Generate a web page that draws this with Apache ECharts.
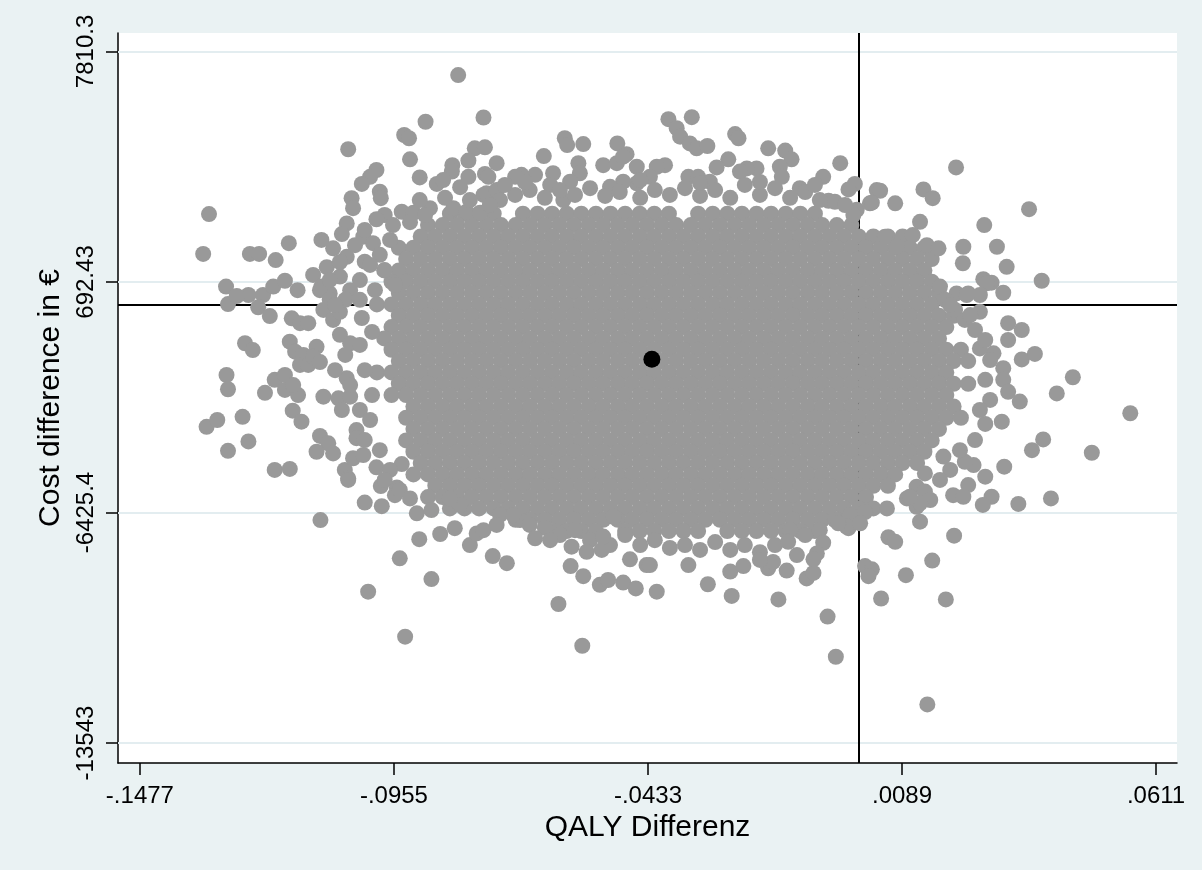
<!DOCTYPE html>
<html>
<head>
<meta charset="utf-8">
<title>QALY / cost scatter</title>
<script src="https://cdn.jsdelivr.net/npm/echarts@6/dist/echarts.min.js"></script>
<style>
  html, body { margin: 0; padding: 0; background: #eaf2f3; }
  #chart { width: 1202px; height: 870px; }
</style>
</head>
<body>
<div id="chart"></div>
<script>
// ticks as printed on the axes
const xTickValues = [-0.1477, -0.0955, -0.0433, 0.0089, 0.0611];
const xTickLabels = ['-.1477', '-.0955', '-.0433', '.0089', '.0611'];
const yTickValues = [-13543, -6425.4, 692.43, 7810.3];
const yTickLabels = ['-13543', '-6425.4', '692.43', '7810.3'];

// mean of the replicates (black dot)
const meanPoint = [-0.0425, -1690];

// outer replicates [qaly, cost]
const cloudTop = [
  [-.0823,7080],[-.0771,5770],[-.0890,5640],[-.0934,5230],[-.0924,5130],[-.1049,4790],[-.0789,4820],[-.0768,4850],
  [-.0922,4480],[-.0802,4440],[-.0835,4300],[-.0836,4100],[-.0902,3920],[-.0991,4150],[-.1004,3940],[-.1021,3720],
  [-.0867,3720],[-.0854,3840],[-.0819,3620],[-.0802,3940],[-.0768,4030],[-.0744,4360],[-.0984,3480],[-.0982,3280],
  [-.1042,3280],[-.1039,2970],[-.0771,3380],[-.0751,3380],[-.0974,2760],[-.0939,2860],[-.0915,2830],[-.0881,2970],
  [-.0833,2970],[-.0806,2860],[-.0778,2830],
  [-.0604,5130],[-.0599,4920],[-.0566,4950],[-.0647,4580],[-.0496,4970],[-.0477,4640],[-.0391,5720],[-.0374,5440],
  [-.0367,5180],[-.0343,5780],[-.0347,4970],[-.0333,4820],[-.0311,4890],[-.0254,5260],[-.0247,5130],[-.0268,4480],
  [-.0292,4230],[-.0186,4820],[-.0151,4750],[-.0138,4480],[-.0038,4360],[-.0073,3940],[-.0008,3720],[-.0021,3550],
  [-.0062,3200],[-.0049,3170],[-.0004,2920],[-.0011,2760],[.0037,3530],[.0023,3120],[-.0121,3590],[-.0162,4250],
  [-.0158,3940],[-.0210,4200],[-.0230,4200],[-.0244,4100],[-.0398,4300],[-.0415,4250],[-.0456,4250],[-.0525,4300],
  [-.0497,4360],[-.0484,4560],[-.0576,4360],[-.0573,4050],[-.0593,3790],[-.0628,4050],[-.0634,3690],[-.0665,4000],
  [-.0693,4000],[-.0706,3940],[-.0761,3940],[-.0765,3430],[-.0744,3530],[-.0607,3220],[-.0350,3940],[-.0330,3940],
  [-.0306,3790],[-.0429,3940],[-.0456,3740],[-.0484,3790],[-.0511,3630],
  [-.0737,3220],[-.0706,3380],[-.0676,3530],[-.0645,3290],[-.0583,3380],[-.0552,3590],[-.0521,3350],[-.0491,3470],
  [-.0449,3290],[-.0419,3530],[-.0388,3380],[-.0357,3590],[-.0326,3350],[-.0295,3530],[-.0264,3290],[-.0234,3690],
  [-.0203,3380],[-.0172,3590],[-.0141,3290],[-.0110,3470],[-.0080,3220],[-.0028,3070],[-.0727,3690],[-.0686,3780],
  [-.0449,3840],[-.0326,3750],[-.0203,3780],[-.0090,3690],[-.0902,3220],[-.0850,3290],[-.0799,3220],[-.0758,3070],
  [-.0922,2540],[-.0891,2760],[-.0614,3530],
  [.0044,3510],[.0027,3140],[.0075,3120],[.0200,4230],[.0133,3550],[.0152,3280],[.0350,2940],[.0126,2550],
  [.0258,2450],[.0111,2140],[.0054,2090],[.0215,1780],[.0214,1270],[.0284,1780],[.0304,1160],[.0376,730],
  [.0256,780],[.0273,670],[.0297,360],[.0140,1830],[.0164,1730],[.0078,1780],[.0167,550],[.0201,340],[.0225,340]
];

const cloudLeft = [
  [-.1335,2790],[-.1347,1560],[-.1251,1560],[-.1232,1560],[-.1171,1890],[-.1198,1370],[-.1104,1990],[-.1080,1730],
  [-.1052,2500],[-.1062,2170],[-.1052,1470],[-.0991,2630],[-.1015,1320],[-.1121,910],[-.1093,1150],[-.1066,860],
  [-.1300,550],[-.1254,290],[-.1224,290],[-.1203,550],[-.1179,730],[-.1153,440],[-.1104,550],[-.1087,340],
  [-.1018,2090],[-.0998,1890],
  [-.1296,10],[-.1278,260],[-.1234,-90],[-.1210,-360],[-.1165,-430],[-.1148,-580],[-.1131,-580],[-.1261,-1200],
  [-.1245,-1410],[-.1169,-1150],[-.1158,-1460],[-.1141,-1560],[-.1148,-1870],[-.1131,-1870],[-.1299,-2180],[-.1296,-2620],
  [-.1220,-2730],[-.1200,-2330],[-.1179,-2180],[-.1179,-2640],[-.1152,-2800],[-.1162,-2490],[-.1100,-2850],[-.1069,-2900],
  [-.1045,-2850],[-.1062,-3260],[-.1340,-3780],[-.1318,-3570],[-.1266,-3470],[-.1296,-4520],[-.1254,-4230],[-.1163,-3280],
  [-.1145,-3620],[-.1107,-4060],[-.1090,-4290],[-.1080,-4600],[-.1114,-4550],[-.1200,-5110],[-.1169,-5080],[-.1106,-6660],
  [-.1056,-5110],[-.1049,-5370],[-.1032,-3880],[-.1032,-4130],[-.1039,-4750],[-.1018,-4650],[-.0991,-5030],[-.0982,-5610],
  [-.0939,-4930],[-.1015,-6120],[-.0980,-6230],[-.0949,-5650],[-.1107,440],[-.1100,-170],[-.1080,-480],[-.1066,-940],
  [-.1045,-1200],[-.1052,-2280],[-.1076,-2030],[-.1114,-1310],[-.1121,-1620],
  [-.1087,140],[-.1066,-230],[-.1021,-420],[-.1000,-850],[-.1025,-1250],[-.1055,-1560],[-.1107,-1780],[-.1045,-2490],
  [-.1015,-2030],[-.1000,-2800],[-.1025,-3260],[-.1004,-3570],[-.1015,-4190],[-.0984,-4500],[-.0963,-5110],[-.0974,-5420],
  [-.0953,-5890],[-.0957,2450],[-.0963,1990],[-.0984,1530],[-.1004,1220],[-.1025,750],[-.1045,440],[-.0974,1060],
  [-.0994,440],[-.0953,600],[-.1015,2300],[-.1035,1830],[-.1066,1310],[-.1087,750],[-.1055,140],[-.1025,140],
  [-.1076,-20],[-.1049,-5420]
];

const cloudRight = [
  [.0263,650],[.0249,290],[.0222,290],[.0249,-230],[.0307,-580],[.0335,-790],[.0307,-1100],[.0335,-1700],
  [.0362,-1530],[.0440,-2250],[.0407,-2750],[.0558,-3360],[.0297,-1970],[.0297,-2330],[.0307,-2700],[.0331,-3000],
  [.0277,-1510],[.0249,-1360],[.0294,-3620],[.0260,-3690],[.0379,-4170],[.0356,-4500],[.0479,-4580],[.0299,-5010],
  [.0260,-5320],[.0236,-4960],[.0218,-4860],[.0225,-5580],[.0194,-5890],[.0215,-5940],[.0273,-5940],[.0255,-6190],
  [.0328,-6160],[.0395,-5990],[.0174,-4700],[.0136,-5220],[.0119,-5630],[.0136,-5780],[.0099,-5990],[.0119,-6250],
  [.0058,-6300],[.0126,-6710],[.0061,-7190],[.0075,-7330],[.0196,-7140],[-.0011,-6660],[-.0021,-6910],
  [.0177,140],[.0198,-170],[.0218,-480],[.0239,-790],[.0260,-1100],[.0270,-1720],[.0260,-2330],[.0270,-2950],
  [.0249,-3260],[.0239,-4190],[.0208,-4500],[.0188,-5110],[.0167,-5420],[.0147,-6040],[.0188,-20],[.0229,-330],
  [.0126,-6140],[.0105,-5940]
];

const cloudBottom = [
  [-.0737,-6500],[-.0696,-6660],[-.0645,-6900],[-.0614,-7120],[-.0583,-6970],[-.0552,-7280],[-.0511,-7430],[-.0480,-7120],
  [-.0449,-7430],[-.0419,-7280],[-.0388,-7520],[-.0357,-7430],[-.0326,-7580],[-.0295,-7340],[-.0264,-7580],[-.0234,-7430],
  [-.0203,-7650],[-.0172,-7430],[-.0141,-6970],[-.0110,-7120],[-.0080,-6970],[-.0049,-6660],[-.0018,-6500],[.0013,-6410],
  [-.0908,-6450],[-.0878,-6350],[-.0903,-7250],[-.0860,-7090],[-.0830,-6910],[-.0799,-7430],
  [-.0943,-7840],[-.1008,-8870],[-.0932,-10260],[-.0878,-8480],[-.0785,-7070],[-.0771,-6970],[-.0752,-7770],[-.0723,-7990],
  [-.0744,-6810],[-.0710,-6500],[-.0819,-6190],[-.0840,-5990],[-.0943,-5730],[-.0922,-5990],[-.0676,-6810],[-.0665,-7220],
  [-.0634,-7280],[-.0617,-9250],[-.0568,-10540],[-.0592,-8080],[-.0566,-8390],[-.0590,-7480],[-.0559,-7640],[-.0528,-7580],
  [-.0532,-8660],[-.0515,-8510],[-.0484,-8590],[-.0458,-8770],[-.0470,-7870],[-.0436,-8050],[-.0525,-7170],[-.0504,-6560],
  [.0151,-7910],[.0097,-8360],[.0013,-8080],[.0027,-8180],[.0020,-8390],[.0046,-9080],[.0179,-9110],[-.0064,-9640],
  [-.0047,-10880],[.0141,-12350],[-.0165,-9110],[-.0261,-9000],[-.0310,-8640],[-.0415,-8870],[-.0107,-8460],[-.0093,-8290],
  [-.0148,-8220],[-.0186,-8150],[-.0176,-7950],[-.0203,-7890],[-.0264,-8250],[-.0237,-8080],[-.0350,-8050],[-.0429,-8050],
  [-.0073,-7360],[-.0086,-7690],[-.0093,-7870],[-.0127,-7740],[-.0145,-7330],[-.0025,-6860],[.0003,-6760],[-.0042,-6760]
];

// solid centre of the cloud, one row per cost level: [cost, qaly, qaly, ...]
const coreRows = [
  [2800,-.084,-.081,-.078,-.075,-.069,-.066,-.063,-.060,-.057,-.054,-.051,-.048,-.045,-.042,-.039,-.033,-.030,-.027,-.024,-.021,-.018,-.015,-.012,-.009],
  [2450,-.0885,-.0855,-.0825,-.0795,-.0765,-.0735,-.0705,-.0675,-.0645,-.0615,-.0585,-.0555,-.0525,-.0495,-.0465,-.0435,-.0405,-.0375,-.0345,-.0315,-.0285,-.0255,-.0225,-.0195,-.0165,-.0135,-.0105,-.0075,-.0045,-.0015],
  [2100,-.090,-.087,-.084,-.081,-.078,-.075,-.072,-.069,-.066,-.063,-.060,-.057,-.054,-.051,-.048,-.045,-.042,-.039,-.036,-.033,-.030,-.027,-.024,-.021,-.018,-.015,-.012,-.009,-.006,-.003,0,.003,.006,.009],
  [1750,-.0945,-.0915,-.0885,-.0855,-.0825,-.0795,-.0765,-.0735,-.0705,-.0675,-.0645,-.0615,-.0585,-.0555,-.0525,-.0495,-.0465,-.0435,-.0405,-.0375,-.0345,-.0315,-.0285,-.0255,-.0225,-.0195,-.0165,-.0135,-.0105,-.0075,-.0045,-.0015,.0015,.0045,.0075,.0105,.0135],
  [1400,-.093,-.090,-.087,-.084,-.081,-.078,-.075,-.072,-.069,-.066,-.063,-.060,-.057,-.054,-.051,-.048,-.045,-.042,-.039,-.036,-.033,-.030,-.027,-.024,-.021,-.018,-.015,-.012,-.009,-.006,-.003,0,.003,.006,.009,.012,.015],
  [1050,-.0975,-.0945,-.0915,-.0885,-.0855,-.0825,-.0795,-.0765,-.0735,-.0705,-.0675,-.0645,-.0615,-.0585,-.0555,-.0525,-.0495,-.0465,-.0435,-.0405,-.0375,-.0345,-.0315,-.0285,-.0255,-.0225,-.0195,-.0165,-.0135,-.0105,-.0075,-.0045,-.0015,.0015,.0045,.0075,.0105,.0135],
  [700,-.096,-.093,-.090,-.087,-.084,-.081,-.078,-.075,-.072,-.069,-.066,-.063,-.060,-.057,-.054,-.051,-.048,-.045,-.042,-.039,-.036,-.033,-.030,-.027,-.024,-.021,-.018,-.015,-.012,-.009,-.006,-.003,0,.003,.006,.009,.012,.015],
  [350,-.0945,-.0915,-.0885,-.0855,-.0825,-.0795,-.0765,-.0735,-.0705,-.0675,-.0645,-.0615,-.0585,-.0555,-.0525,-.0495,-.0465,-.0435,-.0405,-.0375,-.0345,-.0315,-.0285,-.0255,-.0225,-.0195,-.0165,-.0135,-.0105,-.0075,-.0045,-.0015,.0015,.0045,.0075,.0105,.0135,.0165],
  [0,-.099,-.096,-.093,-.090,-.087,-.084,-.081,-.078,-.075,-.072,-.069,-.066,-.063,-.060,-.057,-.054,-.051,-.048,-.045,-.042,-.039,-.036,-.033,-.030,-.027,-.024,-.021,-.018,-.015,-.012,-.009,-.006,-.003,0,.003,.006,.009,.012,.015],
  [-350,-.0945,-.0915,-.0885,-.0855,-.0825,-.0795,-.0765,-.0735,-.0705,-.0675,-.0645,-.0615,-.0585,-.0555,-.0525,-.0495,-.0465,-.0435,-.0405,-.0375,-.0345,-.0315,-.0285,-.0255,-.0225,-.0195,-.0165,-.0135,-.0105,-.0075,-.0045,-.0015,.0015,.0045,.0075,.0105,.0135,.0165,.0195],
  [-700,-.096,-.093,-.090,-.087,-.084,-.081,-.078,-.075,-.072,-.069,-.066,-.063,-.060,-.057,-.054,-.051,-.048,-.045,-.042,-.039,-.036,-.033,-.030,-.027,-.024,-.021,-.018,-.015,-.012,-.009,-.006,-.003,0,.003,.006,.009,.012,.015,.018],
  [-1050,-.0975,-.0945,-.0915,-.0885,-.0855,-.0825,-.0795,-.0765,-.0735,-.0705,-.0675,-.0645,-.0615,-.0585,-.0555,-.0525,-.0495,-.0465,-.0435,-.0405,-.0375,-.0345,-.0315,-.0285,-.0255,-.0225,-.0195,-.0165,-.0135,-.0105,-.0075,-.0045,-.0015,.0015,.0045,.0075,.0105,.0135,.0165],
  [-1400,-.096,-.093,-.090,-.087,-.084,-.081,-.078,-.075,-.072,-.069,-.066,-.063,-.060,-.057,-.054,-.051,-.048,-.045,-.042,-.039,-.036,-.033,-.030,-.027,-.024,-.021,-.018,-.015,-.012,-.009,-.006,-.003,0,.003,.006,.009,.012,.015,.018,.021],
  [-1750,-.0945,-.0915,-.0885,-.0855,-.0825,-.0795,-.0765,-.0735,-.0705,-.0675,-.0645,-.0615,-.0585,-.0555,-.0525,-.0495,-.0465,-.0435,-.0405,-.0375,-.0345,-.0315,-.0285,-.0255,-.0225,-.0195,-.0165,-.0135,-.0105,-.0075,-.0045,-.0015,.0015,.0045,.0075,.0105,.0135,.0165,.0195,.0225],
  [-2100,-.099,-.096,-.093,-.090,-.087,-.084,-.081,-.078,-.075,-.072,-.069,-.066,-.063,-.060,-.057,-.054,-.051,-.048,-.045,-.042,-.039,-.036,-.033,-.030,-.027,-.024,-.021,-.018,-.015,-.012,-.009,-.006,-.003,0,.003,.006,.009,.012,.015,.018],
  [-2450,-.0945,-.0915,-.0885,-.0855,-.0825,-.0795,-.0765,-.0735,-.0705,-.0675,-.0645,-.0615,-.0585,-.0555,-.0525,-.0495,-.0465,-.0435,-.0405,-.0375,-.0345,-.0315,-.0285,-.0255,-.0225,-.0195,-.0165,-.0135,-.0105,-.0075,-.0045,-.0015,.0015,.0045,.0075,.0105,.0135,.0165,.0195,.0225],
  [-2800,-.096,-.093,-.090,-.087,-.084,-.081,-.078,-.075,-.072,-.069,-.066,-.063,-.060,-.057,-.054,-.051,-.048,-.045,-.042,-.039,-.036,-.033,-.030,-.027,-.024,-.021,-.018,-.015,-.012,-.009,-.006,-.003,0,.003,.006,.009,.012,.015,.018],
  [-3150,-.0915,-.0885,-.0855,-.0825,-.0795,-.0765,-.0735,-.0705,-.0675,-.0645,-.0615,-.0585,-.0555,-.0525,-.0495,-.0465,-.0435,-.0405,-.0375,-.0345,-.0315,-.0285,-.0255,-.0225,-.0195,-.0165,-.0135,-.0105,-.0075,-.0045,-.0015,.0015,.0045,.0075,.0105,.0135,.0165,.0195],
  [-3500,-.093,-.090,-.087,-.084,-.081,-.078,-.075,-.072,-.069,-.066,-.063,-.060,-.057,-.054,-.051,-.048,-.045,-.042,-.039,-.036,-.033,-.030,-.027,-.024,-.021,-.018,-.015,-.012,-.009,-.006,-.003,0,.003,.006,.009,.012,.015,.018,.021],
  [-3850,-.0915,-.0885,-.0855,-.0825,-.0795,-.0765,-.0735,-.0705,-.0675,-.0645,-.0615,-.0585,-.0555,-.0525,-.0495,-.0465,-.0435,-.0405,-.0375,-.0345,-.0315,-.0285,-.0255,-.0225,-.0195,-.0165,-.0135,-.0105,-.0075,-.0045,-.0015,.0015,.0045,.0075,.0105,.0135,.0165],
  [-4200,-.093,-.090,-.087,-.084,-.081,-.078,-.075,-.072,-.069,-.066,-.063,-.060,-.057,-.054,-.051,-.048,-.045,-.042,-.039,-.036,-.033,-.030,-.027,-.024,-.021,-.018,-.015,-.012,-.009,-.006,-.003,0,.003,.006,.009,.012,.015],
  [-4550,-.0915,-.0885,-.0855,-.0825,-.0795,-.0765,-.0735,-.0705,-.0675,-.0645,-.0615,-.0585,-.0555,-.0525,-.0495,-.0465,-.0435,-.0405,-.0375,-.0345,-.0315,-.0285,-.0255,-.0225,-.0195,-.0165,-.0135,-.0105,-.0075,-.0045,-.0015,.0015,.0045,.0075,.0105,.0135],
  [-4900,-.090,-.087,-.084,-.081,-.078,-.075,-.072,-.069,-.066,-.063,-.060,-.057,-.054,-.051,-.048,-.045,-.042,-.039,-.036,-.033,-.030,-.027,-.024,-.021,-.018,-.015,-.012,-.009,-.006,-.003,0,.003,.006,.009,.012],
  [-5250,-.0915,-.0885,-.0855,-.0825,-.0795,-.0765,-.0735,-.0705,-.0675,-.0645,-.0615,-.0585,-.0555,-.0525,-.0495,-.0465,-.0435,-.0405,-.0375,-.0345,-.0315,-.0285,-.0255,-.0225,-.0195,-.0165,-.0135,-.0105,-.0075,-.0045,-.0015,.0015,.0045,.0075],
  [-5600,-.087,-.084,-.081,-.078,-.075,-.072,-.069,-.066,-.063,-.060,-.057,-.054,-.051,-.048,-.045,-.042,-.039,-.036,-.033,-.030,-.027,-.024,-.021,-.018,-.015,-.012,-.009,-.006,-.003,0,.003,.006],
  [-5950,-.0885,-.0855,-.0825,-.0795,-.0765,-.0735,-.0705,-.0675,-.0645,-.0615,-.0585,-.0555,-.0525,-.0495,-.0465,-.0435,-.0405,-.0375,-.0345,-.0315,-.0285,-.0255,-.0225,-.0195,-.0165,-.0135,-.0105,-.0075,-.0045,-.0015,.0015],
  [-6300,-.084,-.081,-.078,-.075,-.072,-.069,-.066,-.063,-.060,-.057,-.054,-.051,-.048,-.045,-.042,-.039,-.036,-.033,-.030,-.027,-.024,-.021,-.018,-.015,-.012,-.009,-.006,-.003,0,.003],
  [-6650,-.0705,-.0675,-.0645,-.0615,-.0585,-.0555,-.0525,-.0495,-.0465,-.0435,-.0405,-.0375,-.0345,-.0315,-.0285,-.0255,-.0225,-.0195,-.0165,-.0135,-.0105,-.0075,-.0045,-.0015],
  [-7000,-.063,-.060,-.057,-.054,-.048,-.045,-.042,-.039,-.036,-.033,-.027,-.024,-.021,-.018,-.015,-.012,-.009]
];

let cloud = [];
coreRows.forEach(function (row) {
  for (let i = 1; i < row.length; i++) {
    cloud.push([row[i], row[0]]);
  }
});
cloud = cloud.concat(cloudTop, cloudLeft, cloudRight, cloudBottom);

function tickText(values, labels) {
  return function (v) {
    const i = values.findIndex(function (t) { return Math.abs(t - v) < 1e-7; });
    return i >= 0 ? labels[i] : '';
  };
}

const font = "'Liberation Sans', Arial, Helvetica, sans-serif";
const gridColor = '#e3edf0';

let chart = echarts.init(document.getElementById('chart'));
let option = {
  animation: false,
  backgroundColor: '#eaf2f3',
  textStyle: { fontFamily: font },
  grid: {
    left: 118, right: 25, top: 33, bottom: 107,
    show: true, backgroundColor: '#ffffff', borderWidth: 0
  },
  xAxis: {
    type: 'value',
    min: -0.1522, max: 0.0654,
    name: 'QALY Differenz',
    nameLocation: 'middle',
    nameGap: 43,
    nameTextStyle: { fontSize: 30, color: '#000', fontFamily: font },
    axisLine: { onZero: false, lineStyle: { color: '#000', width: 1.5 } },
    axisTick: { customValues: xTickValues, length: 12, lineStyle: { color: '#000', width: 1.5 } },
    axisLabel: {
      customValues: xTickValues,
      formatter: tickText(xTickValues, xTickLabels),
      fontSize: 24, color: '#000', margin: 21, fontFamily: font
    },
    splitLine: { show: false }
  },
  yAxis: {
    type: 'value',
    min: -14160, max: 8380,
    name: 'Cost difference in €',
    nameLocation: 'middle',
    nameGap: 46,
    nameTextStyle: { fontSize: 30, color: '#000', fontFamily: font },
    axisLine: { onZero: false, lineStyle: { color: '#000', width: 1.5 } },
    axisTick: { customValues: yTickValues, length: 12, lineStyle: { color: '#000', width: 1.5 } },
    axisLabel: {
      customValues: yTickValues,
      formatter: tickText(yTickValues, yTickLabels),
      rotate: 90,
      fontSize: 24, color: '#000', margin: 20, fontFamily: font
    },
    splitLine: { show: false }
  },
  series: [
    {
      type: 'scatter',
      name: 'replicates',
      data: cloud,
      symbol: 'circle',
      symbolSize: 16,
      itemStyle: { color: '#999999', opacity: 1 },
      z: 3,
      silent: true,
      markLine: {
        z: 1,
        silent: true,
        symbol: ['none', 'none'],
        label: { show: false },
        animation: false,
        data: [
          { yAxis: yTickValues[0], lineStyle: { color: gridColor, width: 2, type: 'solid' } },
          { yAxis: yTickValues[1], lineStyle: { color: gridColor, width: 2, type: 'solid' } },
          { yAxis: yTickValues[2], lineStyle: { color: gridColor, width: 2, type: 'solid' } },
          { yAxis: yTickValues[3], lineStyle: { color: gridColor, width: 2, type: 'solid' } },
          { xAxis: 0, lineStyle: { color: '#000', width: 2, type: 'solid' } },
          { yAxis: 0, lineStyle: { color: '#000', width: 2, type: 'solid' } }
        ]
      }
    },
    {
      type: 'scatter',
      name: 'mean',
      data: [meanPoint],
      symbol: 'circle',
      symbolSize: 17,
      itemStyle: { color: '#000000', opacity: 1 },
      z: 4,
      silent: true
    }
  ]
};
chart.setOption(option);
</script>
</body>
</html>
